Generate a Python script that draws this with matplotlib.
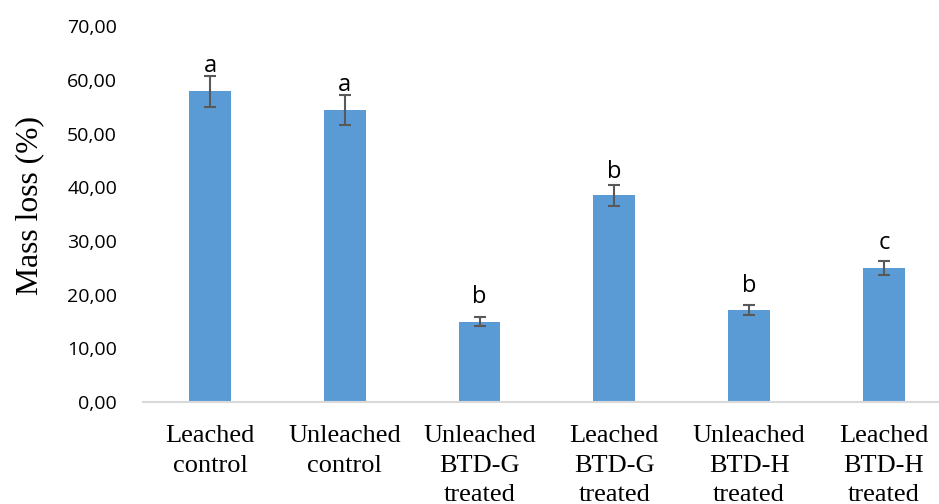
import matplotlib.pyplot as plt
from matplotlib.ticker import FuncFormatter

categories = ['Leached\ncontrol', 'Unleached\ncontrol', 'Unleached\nBTD-G\ntreated',
              'Leached\nBTD-G\ntreated', 'Unleached\nBTD-H\ntreated', 'Leached\nBTD-H\ntreated']
mass_loss = [57.9, 54.4, 15.0, 38.5, 17.2, 24.9]
errors = [2.9, 2.8, 0.8, 2.0, 0.9, 1.3]
letters = ['a', 'a', 'b', 'b', 'b', 'c']
letter_y = [61.5, 58.0, 18.4, 41.7, 20.5, 28.5]

fig = plt.figure(figsize=(9.39, 5.04), dpi=100)
ax = fig.add_axes([0.152, 0.202, 0.861, 0.746])

x = range(len(categories))
ax.bar(x, mass_loss, width=0.31, color='#5B9BD5', zorder=2)
ax.errorbar(x, mass_loss, yerr=errors, fmt='none', ecolor='#595959',
            elinewidth=1.5, capsize=4.5, capthick=1.5, zorder=3)
for i, (t, yy) in enumerate(zip(letters, letter_y)):
    ax.text(i, yy, t, ha='center', va='baseline', fontsize=17, family='Open Sans')

ax.set_xlim(-0.5, len(categories) - 0.5)
ax.set_ylim(0, 70)
ax.set_yticks(range(0, 71, 10))
ax.yaxis.set_major_formatter(FuncFormatter(lambda v, p: f'{v:.2f}'.replace('.', ',')))
ax.set_xticks(list(x))
ax.set_xticklabels(categories, family='Liberation Serif', fontsize=19, linespacing=1.45)
for lab in ax.get_yticklabels():
    lab.set_family('Open Sans')
    lab.set_fontsize(14)
ax.tick_params(axis='both', length=0)
ax.tick_params(axis='y', pad=18.5)
ax.tick_params(axis='x', pad=16.5)
ax.set_ylabel('Mass loss (%)', family='Liberation Serif', fontsize=22.8)
ax.yaxis.set_label_coords(-0.122, 0.524)

for s in ['top', 'right', 'left']:
    ax.spines[s].set_visible(False)
ax.spines['bottom'].set_color('#D9D9D9')
ax.spines['bottom'].set_linewidth(1.5)

fig.savefig('out.png', dpi=100)
